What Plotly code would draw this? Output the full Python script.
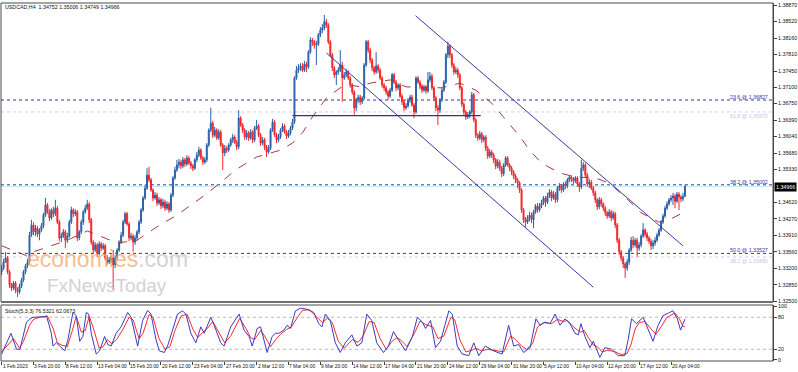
import plotly.graph_objects as go

# ---------------- data (USDCAD H4) ----------------
first_open = 1.3313
closes = [
1.3321,1.3334,1.3343,1.3313,1.3285,1.3278,1.3289,1.3274,1.3270,1.3282,
1.3295,1.3313,1.3326,1.3334,1.3392,1.3414,1.3399,1.3407,1.3394,1.3403,
1.3412,1.3435,1.3457,1.3442,1.3429,1.3446,1.3438,1.3450,1.3420,1.3386,
1.3390,1.3399,1.3381,1.3390,1.3420,1.3446,1.3438,1.3442,1.3386,1.3399,
1.3420,1.3442,1.3450,1.3459,1.3425,1.3377,1.3360,1.3371,1.3353,1.3373,
1.3364,1.3369,1.3343,1.3334,1.3338,1.3343,1.3328,1.3343,1.3360,1.3377,
1.3392,1.3420,1.3438,1.3416,1.3386,1.3390,1.3377,1.3386,1.3399,1.3420,
1.3446,1.3472,1.3493,1.3521,1.3511,1.3489,1.3472,1.3478,1.3461,1.3468,
1.3455,1.3463,1.3450,1.3459,1.3446,1.3478,1.3515,1.3532,1.3543,1.3549,
1.3541,1.3554,1.3545,1.3558,1.3547,1.3541,1.3536,1.3554,1.3564,1.3575,
1.3558,1.3549,1.3554,1.3586,1.3618,1.3633,1.3607,1.3618,1.3601,1.3614,
1.3586,1.3569,1.3579,1.3575,1.3586,1.3597,1.3603,1.3592,1.3582,1.3644,
1.3629,1.3618,1.3603,1.3612,1.3601,1.3614,1.3597,1.3622,1.3627,1.3607,
1.3590,1.3597,1.3582,1.3571,1.3579,1.3618,1.3635,1.3607,1.3597,1.3603,
1.3618,1.3627,1.3614,1.3605,1.3612,1.3622,1.3635,1.3730,1.3747,1.3752,
1.3756,1.3747,1.3760,1.3754,1.3786,1.3812,1.3808,1.3801,1.3803,1.3823,
1.3833,1.3838,1.3851,1.3844,1.3808,1.3780,1.3752,1.3737,1.3743,1.3747,
1.3758,1.3730,1.3737,1.3743,1.3730,1.3715,1.3700,1.3666,1.3683,1.3689,
1.3679,1.3687,1.3758,1.3808,1.3790,1.3769,1.3752,1.3743,1.3756,1.3747,
1.3730,1.3715,1.3709,1.3700,1.3691,1.3704,1.3737,1.3721,1.3709,1.3715,
1.3691,1.3679,1.3666,1.3670,1.3683,1.3689,1.3672,1.3657,1.3730,1.3721,
1.3713,1.3704,1.3711,1.3702,1.3726,1.3734,1.3709,1.3687,1.3666,1.3661,
1.3683,1.3704,1.3721,1.3780,1.3799,1.3780,1.3758,1.3743,1.3747,1.3737,
1.3709,1.3674,1.3657,1.3646,1.3651,1.3657,1.3694,1.3640,1.3607,1.3601,
1.3610,1.3597,1.3603,1.3579,1.3562,1.3571,1.3564,1.3554,1.3541,1.3549,
1.3536,1.3524,1.3543,1.3558,1.3543,1.3536,1.3528,1.3519,1.3511,1.3504,
1.3489,1.3446,1.3425,1.3420,1.3429,1.3435,1.3425,1.3442,1.3455,1.3446,
1.3455,1.3461,1.3472,1.3463,1.3476,1.3485,1.3472,1.3480,1.3468,1.3493,
1.3498,1.3489,1.3502,1.3498,1.3511,1.3517,1.3513,1.3509,1.3515,1.3502,
1.3496,1.3536,1.3543,1.3521,1.3502,1.3506,1.3493,1.3483,1.3468,1.3453,
1.3468,1.3459,1.3450,1.3440,1.3433,1.3442,1.3429,1.3438,1.3414,1.3381,
1.3356,1.3343,1.3330,1.3321,1.3334,1.3360,1.3381,1.3371,1.3381,1.3364,
1.3371,1.3390,1.3403,1.3394,1.3386,1.3379,1.3369,1.3375,1.3381,1.3392,
1.3403,1.3420,1.3433,1.3450,1.3459,1.3468,1.3472,1.3476,1.3465,1.3480,
1.3474,1.3470,1.34752,1.34966]

highs = [
1.3328,1.3341,1.3356,1.3347,1.3317,1.3289,1.3293,1.3293,1.3280,1.3287,
1.3300,1.3317,1.3330,1.3341,1.3399,1.3425,1.3420,1.3414,1.3412,1.3407,
1.3418,1.3440,1.3472,1.3461,1.3448,1.3450,1.3453,1.3468,1.3455,1.3425,
1.3397,1.3405,1.3403,1.3397,1.3425,1.3453,1.3450,1.3448,1.3446,1.3403,
1.3425,1.3446,1.3457,1.3468,1.3463,1.3429,1.3381,1.3377,1.3375,1.3379,
1.3377,1.3375,1.3373,1.3349,1.3345,1.3349,1.3360,1.3349,1.3364,1.3381,
1.3399,1.3425,1.3442,1.3442,1.3420,1.3397,1.3394,1.3392,1.3403,1.3425,
1.3450,1.3476,1.3500,1.3536,1.3539,1.3515,1.3493,1.3485,1.3483,1.3474,
1.3472,1.3470,1.3468,1.3465,1.3463,1.3483,1.3519,1.3539,1.3554,1.3556,
1.3554,1.3560,1.3558,1.3564,1.3562,1.3552,1.3545,1.3558,1.3571,1.3582,
1.3579,1.3562,1.3560,1.3590,1.3622,1.3666,1.3638,1.3625,1.3622,1.3620,
1.3618,1.3590,1.3586,1.3584,1.3590,1.3601,1.3610,1.3607,1.3597,1.3661,
1.3648,1.3633,1.3622,1.3618,1.3616,1.3620,1.3618,1.3627,1.3640,1.3631,
1.3612,1.3603,1.3601,1.3586,1.3586,1.3622,1.3642,1.3640,1.3612,1.3610,
1.3622,1.3633,1.3631,1.3618,1.3618,1.3627,1.3642,1.3734,1.3756,1.3760,
1.3762,1.3762,1.3767,1.3765,1.3790,1.3818,1.3816,1.3812,1.3810,1.3827,
1.3840,1.3846,1.3866,1.3857,1.3848,1.3812,1.3784,1.3756,1.3747,1.3754,
1.3790,1.3765,1.3743,1.3750,1.3747,1.3734,1.3719,1.3704,1.3687,1.3694,
1.3694,1.3691,1.3762,1.3812,1.3812,1.3795,1.3773,1.3756,1.3786,1.3760,
1.3752,1.3734,1.3719,1.3713,1.3704,1.3709,1.3741,1.3741,1.3726,1.3719,
1.3719,1.3696,1.3683,1.3676,1.3687,1.3694,1.3694,1.3676,1.3734,1.3734,
1.3726,1.3717,1.3715,1.3715,1.3743,1.3743,1.3739,1.3713,1.3691,1.3672,
1.3687,1.3709,1.3726,1.3784,1.3808,1.3803,1.3784,1.3762,1.3754,1.3752,
1.3741,1.3713,1.3678,1.3661,1.3657,1.3661,1.3700,1.3698,1.3644,1.3612,
1.3616,1.3614,1.3607,1.3607,1.3584,1.3577,1.3575,1.3569,1.3558,1.3556,
1.3554,1.3541,1.3547,1.3562,1.3562,1.3547,1.3541,1.3532,1.3524,1.3515,
1.3508,1.3493,1.3450,1.3431,1.3435,1.3442,1.3440,1.3446,1.3459,1.3461,
1.3461,1.3468,1.3476,1.3476,1.3483,1.3491,1.3489,1.3487,1.3485,1.3498,
1.3504,1.3502,1.3506,1.3508,1.3515,1.3521,1.3521,1.3517,1.3519,1.3519,
1.3506,1.3554,1.3549,1.3547,1.3526,1.3513,1.3511,1.3498,1.3487,1.3472,
1.3474,1.3472,1.3463,1.3455,1.3444,1.3448,1.3446,1.3444,1.3442,1.3418,
1.3386,1.3360,1.3347,1.3334,1.3341,1.3364,1.3388,1.3390,1.3386,1.3386,
1.3377,1.3394,1.3418,1.3407,1.3399,1.3390,1.3384,1.3381,1.3388,1.3397,
1.3407,1.3425,1.3438,1.3455,1.3465,1.3472,1.3478,1.3483,1.3481,1.3485,
1.3485,1.3478,1.3483,1.35006]

lows = [
1.3306,1.3317,1.3332,1.3308,1.3278,1.3272,1.3274,1.3267,1.3259,1.3265,
1.3278,1.3291,1.3308,1.3321,1.3330,1.3388,1.3392,1.3390,1.3388,1.3381,
1.3399,1.3407,1.3431,1.3438,1.3422,1.3425,1.3431,1.3433,1.3416,1.3379,
1.3377,1.3386,1.3364,1.3375,1.3386,1.3416,1.3431,1.3433,1.3379,1.3381,
1.3394,1.3414,1.3438,1.3446,1.3418,1.3371,1.3353,1.3356,1.3345,1.3349,
1.3358,1.3360,1.3338,1.3328,1.3330,1.3332,1.3274,1.3321,1.3338,1.3356,
1.3373,1.3388,1.3416,1.3412,1.3379,1.3381,1.3356,1.3371,1.3381,1.3394,
1.3416,1.3442,1.3468,1.3489,1.3506,1.3485,1.3465,1.3468,1.3455,1.3457,
1.3448,1.3450,1.3444,1.3446,1.3440,1.3442,1.3474,1.3511,1.3528,1.3536,
1.3534,1.3536,1.3539,1.3541,1.3543,1.3534,1.3530,1.3532,1.3549,1.3560,
1.3554,1.3543,1.3545,1.3549,1.3582,1.3614,1.3601,1.3603,1.3597,1.3597,
1.3582,1.3532,1.3562,1.3569,1.3571,1.3582,1.3590,1.3588,1.3575,1.3577,
1.3625,1.3612,1.3597,1.3597,1.3595,1.3597,1.3590,1.3592,1.3618,1.3603,
1.3584,1.3586,1.3575,1.3560,1.3567,1.3575,1.3614,1.3603,1.3590,1.3592,
1.3599,1.3614,1.3610,1.3599,1.3601,1.3607,1.3618,1.3631,1.3726,1.3741,
1.3745,1.3743,1.3743,1.3743,1.3750,1.3782,1.3799,1.3793,1.3758,1.3799,
1.3818,1.3827,1.3833,1.3838,1.3803,1.3775,1.3745,1.3730,1.3715,1.3737,
1.3743,1.3679,1.3726,1.3732,1.3726,1.3709,1.3694,1.3651,1.3659,1.3676,
1.3672,1.3674,1.3683,1.3754,1.3784,1.3762,1.3745,1.3737,1.3739,1.3741,
1.3726,1.3709,1.3702,1.3694,1.3683,1.3687,1.3700,1.3717,1.3702,1.3704,
1.3687,1.3672,1.3659,1.3661,1.3666,1.3676,1.3668,1.3644,1.3653,1.3717,
1.3706,1.3698,1.3700,1.3696,1.3698,1.3721,1.3704,1.3681,1.3659,1.3629,
1.3655,1.3678,1.3700,1.3717,1.3773,1.3773,1.3752,1.3737,1.3739,1.3730,
1.3704,1.3668,1.3651,1.3640,1.3642,1.3644,1.3653,1.3635,1.3601,1.3595,
1.3597,1.3590,1.3592,1.3573,1.3556,1.3558,1.3558,1.3547,1.3534,1.3536,
1.3530,1.3517,1.3519,1.3539,1.3539,1.3530,1.3521,1.3513,1.3504,1.3493,
1.3483,1.3440,1.3418,1.3409,1.3416,1.3422,1.3418,1.3407,1.3438,1.3440,
1.3442,1.3450,1.3457,1.3453,1.3459,1.3472,1.3465,1.3468,1.3461,1.3463,
1.3487,1.3483,1.3485,1.3491,1.3493,1.3506,1.3506,1.3502,1.3504,1.3496,
1.3485,1.3491,1.3530,1.3517,1.3496,1.3493,1.3489,1.3476,1.3461,1.3446,
1.3448,1.3453,1.3444,1.3433,1.3427,1.3429,1.3422,1.3425,1.3407,1.3375,
1.3349,1.3336,1.3321,1.3300,1.3315,1.3328,1.3356,1.3364,1.3366,1.3345,
1.3358,1.3366,1.3386,1.3388,1.3379,1.3373,1.3360,1.3362,1.3369,1.3377,
1.3388,1.3399,1.3416,1.3429,1.3446,1.3455,1.3463,1.3457,1.3450,1.3461,
1.3446,1.3463,1.3465,1.34749]

assert len(closes) == len(highs) == len(lows), (len(closes), len(highs), len(lows))
opens = [first_open] + closes[:-1]
bar_idx = list(range(len(closes)))

# moving average (dashed)
ma_idx = [0, 13, 16, 33, 43, 58, 68, 78, 88, 103, 118, 128, 140, 146, 151, 156, 163, 170, 175, 180,
          185, 195, 203, 213, 221, 230, 238, 246, 253, 260, 265, 271, 280, 288, 298, 305, 313, 321,
          330, 335, 342]
ma_vals = [1.3369, 1.3347, 1.3356, 1.3381, 1.3401, 1.3375, 1.3381, 1.3410, 1.3435, 1.3481, 1.3534,
           1.3560, 1.3575, 1.3590, 1.3612, 1.3646, 1.3687, 1.3709, 1.3715, 1.3711, 1.3719, 1.3726,
           1.3711, 1.3709, 1.3709, 1.3719, 1.3704, 1.3676, 1.3640, 1.3605, 1.3575, 1.3547, 1.3526,
           1.3517, 1.3515, 1.3504, 1.3474, 1.3440, 1.3420, 1.3425, 1.3440]

# drawn objects
channel_upper_idx = [207.8, 342]
channel_upper_val = [1.3864, 1.3369]
channel_lower_idx = [163, 297]
channel_lower_val = [1.3784, 1.3280]
neck_idx = [146, 240.5]
neck_val = [1.3649, 1.3649]

fib_levels = [1.36827, 1.35002, 1.33527]
fib_labels = ["23.6 @ 1.36827", "38.2 @ 1.35002", "50.0 @ 1.33527"]
fib_faint_levels = [1.36570, 1.33450]
fib_faint_labels = ["61.8 @ 1.36570", "38.2 @ 1.33450"]
bid_price = 1.34966

# stochastic (5,3,3)
stoch_k_idx = [0, 4.7, 7.5, 9.2, 12.5, 14.2, 15.8, 21.7, 22.5, 25, 25.8, 27.5, 29.2, 31.7, 33.3, 35.8,
               37.5, 39.2, 40.8, 42.5, 43.7, 45, 47.5, 49.2, 51.7, 53.3, 55, 57.5, 60, 63.3, 65, 66.7,
               68.3, 70.8, 73.3, 75, 77.5, 79.2, 81.7, 83.3, 85.8, 88.3, 90.8, 92.5, 95, 97.5, 100,
               101.7, 105, 106.7, 110, 111.7, 115, 119.2, 121.7, 124.2, 125.8, 128.3, 130, 131.7,
               133.3, 135.8, 137.5, 139.2, 141.7, 143.3, 145, 147.5, 150, 153.3, 156.7, 159.2, 160.8,
               162.5, 165, 167.5, 170, 172.5, 175.8, 178.3, 180.8, 183.3, 185.8, 188.3, 191.7, 194.2,
               196.7, 199.5, 202.8, 206.2, 208.7, 211.2, 212.8, 215.3, 217.8, 220.3, 224.5, 226.2,
               228.7, 231.2, 234.5, 237, 239.5, 242.8, 247, 251.2, 254.5, 257, 259.5, 262, 265.3,
               268.2, 270.3, 272.8, 275.3, 277.8, 280.3, 282.8, 285.3, 287.8, 289.5, 290.8, 292.8,
               295.3, 297, 300.3, 302.8, 306.2, 309.5, 312.8, 314.5, 316.2, 318.7, 322, 324.5, 327,
               329.5, 332, 335.3, 337, 339.2, 340.8, 343]
stoch_k = [11, 50, 20, 20, 71, 77, 80, 81, 83, 50, 26, 32, 26, 17, 38, 89,
           83, 35, 44, 89, 86, 50, 11, 17, 44, 29, 26, 50, 62, 89, 80, 50,
           26, 74, 93, 86, 38, 17, 14, 26, 56, 86, 92, 86, 50, 32, 62,
           50, 80, 65, 32, 26, 62, 86, 56, 44, 26, 59, 62, 38,
           14, 44, 50, 50, 56, 65, 59, 92, 97, 95, 89, 68, 62,
           86, 74, 32, 14, 32, 47, 26, 32, 86, 74, 32, 14, 26,
           53, 36, 17, 44, 80, 71, 59, 74, 23, 35, 92, 86,
           26, 11, 8, 32, 8, 26, 17, 11, 65, 26, 29, 14, 23,
           77, 65, 71, 68, 86, 65, 77, 68, 50, 47, 68, 44,
           23, 35, 5, 23, 20, 8, 8, 38, 77, 68, 80, 59, 35,
           65, 83, 89, 92, 77, 56, 76.53]
stoch_d_idx = [0, 6, 9, 11, 14, 16, 19, 23, 26, 28, 30, 33, 35.5, 37.5, 40, 42, 44, 46, 49, 51, 53,
               55.5, 58, 61, 64, 66, 69, 71, 74, 76, 79, 82, 84.5, 87, 90, 93, 96, 98.5, 101, 103,
               106, 108.5, 112, 115, 119.5, 122.5, 125, 127, 130, 132, 135, 137.5, 140, 143, 145.5,
               148.5, 151, 154.5, 158, 161, 163.5, 166, 169, 172, 176, 179, 181.5, 184.5, 187, 190,
               193, 196, 198.5, 201, 203.5, 207.5, 210, 213, 216.5, 219, 222, 225.5, 227.5, 230,
               233, 236, 238, 241, 244, 248, 252, 255.5, 258, 261, 263.5, 266.5, 269, 272, 276,
               279, 282, 284, 287, 290.5, 292.5, 294.5, 297, 299, 301.5, 304, 307.5, 311, 314,
               316, 318, 320, 323, 326, 328.5, 331, 334, 338, 340.5, 342, 343]
stoch_d = [15, 40, 22, 35, 65, 76, 80, 82, 58, 32, 28, 25, 55, 82, 52, 55, 82, 60, 22, 25, 38,
           30, 40, 58, 80, 75, 40, 50, 85, 80, 40, 20, 25, 55, 82, 86, 58, 42, 52, 58,
           72, 55, 32, 45, 78, 60, 42, 38, 55, 45, 25, 38, 48, 57, 62,
           80, 93, 94, 82, 70, 78, 70, 35, 22, 38, 33, 45, 72, 70, 40,
           20, 35, 42, 35, 25, 52, 73, 66, 62, 40, 45, 80, 75, 38,
           15, 18, 22, 17, 20, 18, 15, 45, 38, 26, 20, 30, 62, 70, 68,
           76, 72, 74, 62, 52, 55, 42, 28, 25, 15, 18, 16, 10, 12,
           30, 58, 70, 72, 58, 48, 62, 80, 88, 75, 63, 62.07]

# axis labels
price_ticks = [1.38870, 1.38520, 1.38160, 1.37810, 1.37450, 1.37100, 1.36750, 1.36390, 1.36040,
               1.35680, 1.35330, 1.34620, 1.34270, 1.33910, 1.33560, 1.33200, 1.32850, 1.32500]
stoch_ticks = [0, 20, 80, 100]
time_labels = ["1 Feb 2023", "3 Feb 20:00", "8 Feb 12:00", "13 Feb 04:00", "15 Feb 20:00",
               "20 Feb 12:00", "23 Feb 04:00", "27 Feb 20:00", "2 Mar 12:00", "7 Mar 04:00",
               "9 Mar 20:00", "14 Mar 12:00", "17 Mar 04:00", "21 Mar 20:00", "24 Mar 12:00",
               "29 Mar 04:00", "31 Mar 20:00", "5 Apr 12:00", "10 Apr 04:00", "12 Apr 20:00",
               "17 Apr 12:00", "20 Apr 04:00"]
time_label_idx = [16 * k for k in range(len(time_labels))]

header_text = "USDCAD,H4  1.34752 1.35006 1.34749 1.34966"
stoch_text = "Stoch(5,3,3) 76.5321 62.0673"

# ---------------- styling ----------------
FONT = "Liberation Sans"
UP = "#2b62aa"
DN = "#f2262a"
NAVY = "#34349e"

fig = go.Figure()
fig.add_trace(go.Candlestick(
    x=bar_idx, open=opens, high=highs, low=lows, close=closes,
    increasing=dict(line=dict(color=UP, width=1), fillcolor=UP),
    decreasing=dict(line=dict(color=DN, width=1), fillcolor=DN),
    whiskerwidth=0, hoverinfo="skip", xaxis="x", yaxis="y"))
fig.add_trace(go.Scatter(x=ma_idx, y=ma_vals, mode="lines",
                         line=dict(color="#a53a3a", width=1, dash="dash"),
                         hoverinfo="skip", xaxis="x", yaxis="y"))
for xs, ys in [(channel_upper_idx, channel_upper_val), (channel_lower_idx, channel_lower_val)]:
    fig.add_trace(go.Scatter(x=xs, y=ys, mode="lines", line=dict(color="#3a3aa8", width=1),
                             hoverinfo="skip", xaxis="x", yaxis="y"))
fig.add_trace(go.Scatter(x=neck_idx, y=neck_val, mode="lines", line=dict(color="#30308e", width=1.3),
                         hoverinfo="skip", xaxis="x", yaxis="y"))
fig.add_trace(go.Scatter(x=stoch_d_idx, y=stoch_d, mode="lines", line=dict(color="#ff2a2a", width=1),
                         hoverinfo="skip", xaxis="x", yaxis="y2"))
fig.add_trace(go.Scatter(x=stoch_k_idx, y=stoch_k, mode="lines", line=dict(color="#3b3bc0", width=1),
                         hoverinfo="skip", xaxis="x", yaxis="y2"))

shapes = []
for lv in fib_faint_levels:
    shapes.append(dict(type="line", xref="x domain", yref="y", x0=0, x1=1, y0=lv, y1=lv,
                       line=dict(color="#cfcff0", width=1, dash="dot"), layer="below"))
shapes.append(dict(type="line", xref="x domain", yref="y", x0=0, x1=1, y0=bid_price, y1=bid_price,
                   line=dict(color="#cdeaf2", width=1), layer="below"))
for lv in fib_levels:
    shapes.append(dict(type="line", xref="x domain", yref="y", x0=0, x1=1, y0=lv, y1=lv,
                       line=dict(color=NAVY, width=1, dash="dot"), layer="below"))
for lv in [20, 80]:
    shapes.append(dict(type="line", xref="x domain", yref="y2", x0=0, x1=1, y0=lv, y1=lv,
                       line=dict(color="#b8b8b8", width=1, dash="dot"), layer="below"))
shapes.append(dict(type="rect", xref="x domain", yref="y domain", x0=0, x1=1, y0=0, y1=1,
                   line=dict(color="#4a4a4a", width=1)))
shapes.append(dict(type="rect", xref="x domain", yref="y2 domain", x0=0, x1=1, y0=0, y1=1,
                   line=dict(color="#4a4a4a", width=1)))
shapes.append(dict(type="line", xref="x domain", yref="y domain", x0=0, x1=1, y0=0, y1=0,
                   line=dict(color="#707070", width=2)))

ann = []
ann.append(dict(text=header_text, xref="paper", yref="paper", x=0.003, y=1, xanchor="left",
                yanchor="top", yshift=1, showarrow=False, font=dict(size=5.3, color="#101010", family=FONT)))
ann.append(dict(text=stoch_text, xref="paper", yref="y2 domain", x=0.003, y=1, xanchor="left",
                yanchor="top", yshift=-1, showarrow=False, font=dict(size=5.3, color="#101010", family=FONT)))
for lv, t in zip(fib_levels, fib_labels):
    ann.append(dict(text=t, xref="paper", yref="y", x=0.996, y=lv, xanchor="right", yanchor="bottom",
                    yshift=-2, showarrow=False, font=dict(size=5.3, color=NAVY, family=FONT)))
for lv, t in zip(fib_faint_levels, fib_faint_labels):
    ann.append(dict(text=t, xref="paper", yref="y", x=0.996, y=lv, xanchor="right", yanchor="top",
                    yshift=1, showarrow=False, font=dict(size=5.3, color="#c4c4ea", family=FONT)))
ann.append(dict(text=f"{bid_price:.5f}", xref="paper", yref="y", x=1.0, y=bid_price, xanchor="left",
                yanchor="middle", xshift=1, showarrow=False, bgcolor="#000000", borderpad=1,
                font=dict(size=5.3, color="#ffffff", family=FONT)))
for i, t in zip(time_label_idx, time_labels):
    ann.append(dict(text=t, xref="x", yref="paper", x=i, y=0, xanchor="left", yanchor="top",
                    yshift=-1, xshift=-1, showarrow=False, font=dict(size=4.9, color="#101010", family=FONT)))
# watermark
ann.append(dict(text='<span style="color:rgba(246,168,104,0.75)">economies</span>'
                     '<span style="color:rgba(190,190,190,0.7)">.com</span>',
                xref="paper", yref="paper", x=(25 - 1) / 775, y=(361 - 259) / 358,
                xanchor="left", yanchor="middle", showarrow=False,
                font=dict(size=23, family=FONT)))
ann.append(dict(text="FxNewsToday",
                xref="paper", yref="paper", x=(45 - 1) / 775, y=(361 - 285) / 358,
                xanchor="left", yanchor="middle", showarrow=False,
                font=dict(size=19, family=FONT, color="rgba(195,195,195,0.75)")))

fig.update_layout(
    width=798, height=372,
    margin=dict(l=1, r=22, t=3, b=11),
    paper_bgcolor="white", plot_bgcolor="white",
    showlegend=False,
    font=dict(family=FONT, size=5.3, color="#101010"),
    xaxis=dict(domain=[0, 1], range=[-0.3, 387.2], anchor="y2", showgrid=False, zeroline=False,
               tickvals=time_label_idx, ticks="outside", ticklen=3, tickcolor="#404040",
               showticklabels=False, showline=False, rangeslider=dict(visible=False)),
    yaxis=dict(domain=[(361 - 302) / 358, 1], range=[1.32481, 1.38915], side="right", anchor="x",
               tickvals=price_ticks, ticktext=[f"{v:.5f}" for v in price_ticks],
               ticks="outside", ticklen=3, tickcolor="#404040", showgrid=False, zeroline=False,
               showline=True, linecolor="#404040", linewidth=1,
               tickfont=dict(size=5.3, family=FONT, color="#101010")),
    yaxis2=dict(domain=[0, (361 - 305) / 358], range=[-2, 103], side="right", anchor="x",
                tickvals=stoch_ticks, ticktext=[str(v) for v in stoch_ticks],
                ticks="outside", ticklen=3, tickcolor="#404040", showgrid=False, zeroline=False,
                showline=True, linecolor="#404040", linewidth=1,
                tickfont=dict(size=5.3, family=FONT, color="#101010")),
    shapes=shapes, annotations=ann,
)

fig.write_html("out.html", config={"displayModeBar": False},
               post_script="document.body.style.margin='0px';document.body.style.overflow='hidden';")
